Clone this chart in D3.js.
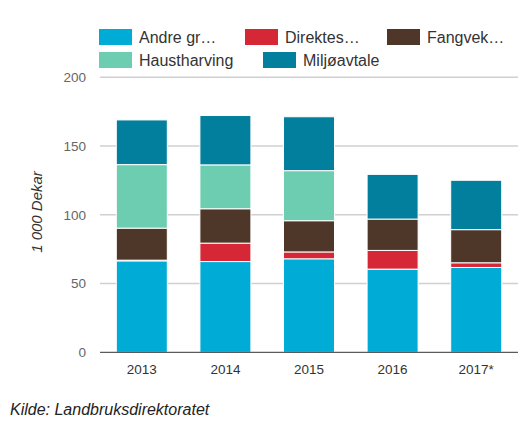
<!DOCTYPE html>
<html><head><meta charset="utf-8">
<script src="https://cdn.jsdelivr.net/npm/d3@7"></script>
<style>
body{margin:0;background:#fff;font-family:"Liberation Sans",Arial,sans-serif;}
</style></head><body>
<svg id="chart" width="526" height="437"></svg>
<script>
const years = ["2013","2014","2015","2016","2017*"];
const seriesNames = ["Andre gr…","Direktes…","Fangvek…","Haustharving","Miljøavtale"];
const andre = [66.5, 66.0, 68.0, 60.5, 61.7];
const direktes = [0.5, 13.4, 5.0, 13.6, 3.4];
const fangvek = [23.3, 25.0, 22.7, 22.8, 24.1];
const haust = [46.2, 31.9, 36.4, 0, 0];
const miljo = [32.5, 35.9, 39.2, 32.5, 35.9];
const yTicks = [0, 50, 100, 150, 200];
const colors = ["#00acd6","#d52735","#4e3629","#6dcdb1","#017f9d"];

const svg = d3.select("#chart");
const x0 = 100, x1 = 518, yTop = 77.3, yBot = 352.3;
const x = d3.scaleBand().domain(years).range([x0, x1]).paddingInner(0.39).paddingOuter(0.195);
const y = d3.scaleLinear().domain([0, 200]).range([yBot, yTop]);

// grid
svg.append("g").selectAll("line").data(yTicks.filter(d=>d>0)).join("line")
  .attr("x1", x0).attr("x2", x1).attr("y1", d=>y(d)).attr("y2", d=>y(d))
  .attr("stroke", "#d0d0d0").attr("stroke-width", 1.5);

// y tick labels
svg.append("g").selectAll("text").data(yTicks).join("text")
  .attr("x", 86).attr("y", d=>y(d)).attr("dy", "0.35em").attr("text-anchor","end")
  .attr("font-size", 13.5).attr("fill", "#666").text(d=>d);

// stacks
const table = years.map((yr,i)=>({year:yr, s0:andre[i], s1:direktes[i], s2:fangvek[i], s3:haust[i], s4:miljo[i]}));
const stack = d3.stack().keys(["s0","s1","s2","s3","s4"])(table);
svg.append("g").selectAll("g").data(stack).join("g")
  .attr("fill", (d,i)=>colors[i])
  .selectAll("rect").data(d=>d.filter(p=>p[1]-p[0]>0)).join("rect")
  .attr("x", d=>x(d.data.year)).attr("width", x.bandwidth())
  .attr("y", d=>y(d[1])).attr("height", d=>y(d[0])-y(d[1]))
  .attr("stroke", "#fff").attr("stroke-width", 1);

// x axis line
svg.append("line").attr("x1", x0).attr("x2", x1).attr("y1", yBot).attr("y2", yBot)
  .attr("stroke", "#333").attr("stroke-width", 1);

// x labels
svg.append("g").selectAll("text").data(years).join("text")
  .attr("x", d=>x(d)+x.bandwidth()/2).attr("y", 369).attr("dy","0.35em")
  .attr("text-anchor","middle").attr("font-size", 13.5).attr("fill","#333").text(d=>d);

// y title
svg.append("text").attr("transform","translate(42,212) rotate(-90)")
  .attr("text-anchor","middle").attr("font-size", 15).attr("font-style","italic")
  .attr("fill","#333").text("1 000 Dekar");

// legend
const legendPos = [[99,29],[245,29],[387,29],[99,52],[263,52]];
const lg = svg.append("g");
seriesNames.forEach((n,i)=>{
  const [lx,ly] = legendPos[i];
  lg.append("rect").attr("x",lx).attr("y",ly).attr("width",33).attr("height",16).attr("fill",colors[i]);
  lg.append("text").attr("x",lx+40).attr("y",ly+8).attr("dy","0.35em")
    .attr("font-size",16).attr("fill","#333").text(n);
});

// source
svg.append("text").attr("x",10).attr("y",415).attr("font-size",16)
  .attr("font-style","italic").attr("fill","#222").text("Kilde: Landbruksdirektoratet");
</script>
</body></html>
